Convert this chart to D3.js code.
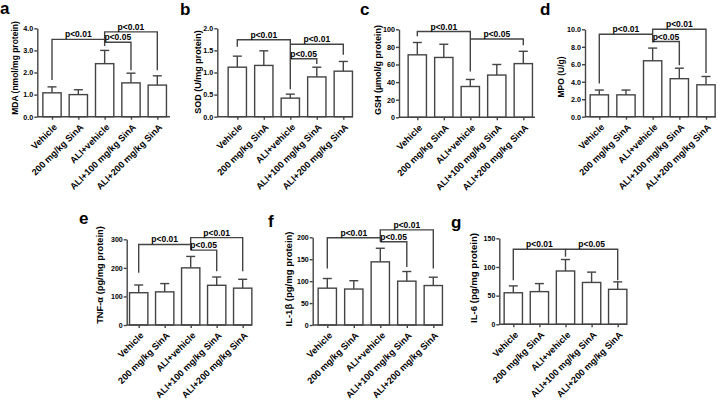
<!DOCTYPE html>
<html>
<head>
<meta charset="utf-8">
<script src="https://cdn.jsdelivr.net/npm/d3@7"></script>
<style>
  html, body { margin: 0; padding: 0; background: #fff; }
  svg { display: block; font-family: "Liberation Sans", Arial, sans-serif; font-weight: bold; }
</style>
</head>
<body>
<svg id="chart" width="723" height="400"></svg>
<script>
// ---------- data ----------
const categories = ["Vehicle", "200 mg/kg SinA", "ALI+vehicle", "ALI+100 mg/kg SinA", "ALI+200 mg/kg SinA"];
const panelLetters = ["a", "b", "c", "d", "e", "f", "g"];
const yTitles = ["MDA (nmol/mg protein)", "SOD (U/mg protein)", "GSH (\u00b5mol/g protein)", "MPO (U/g)",
                 "TNF-\u03b1  (pg/mg protein)", "IL-1\u03b2 (pg/mg protein)", "IL-6 (pg/mg protein)"];

const mdaMean = [1.08, 1.0, 2.4, 1.53, 1.43];
const mdaSD   = [0.27, 0.22, 0.6, 0.44, 0.42];
const sodMean = [1.12, 1.16, 0.42, 0.9, 1.03];
const sodSD   = [0.25, 0.33, 0.09, 0.22, 0.22];
const gshMean = [71, 68, 35, 48, 61];
const gshSD   = [14, 15, 8, 12, 14];
const mpoMean = [2.5, 2.5, 6.4, 4.35, 3.65];
const mpoSD   = [0.55, 0.55, 1.45, 1.2, 0.95];
const tnfMean = [113, 116, 200, 139, 129];
const tnfSD   = [27, 29, 40, 29, 31];
const il1Mean = [84, 82, 144, 100, 90];
const il1SD   = [22, 19, 31, 22, 19];
const il6Mean = [55, 57, 93, 73, 61];
const il6SD   = [12, 14, 20, 18, 13];

const mdaTicks = [0, 1, 2, 3, 4];
const sodTicks = [0, 0.5, 1, 1.5, 2];
const gshTicks = [0, 20, 40, 60, 80, 100];
const mpoTicks = [0, 2, 4, 6, 8, 10];
const tnfTicks = [0, 100, 200, 300];
const il1Ticks = [0, 50, 100, 150, 200];
const il6Ticks = [0, 50, 100, 150];
const tickFormats = [".1f", ".1f", "d", ".1f", "d", "d", "d"];

// brackets: [group from, group to, level, leg end at from, leg end at to, label]
const mdaBrackets = [[0, 2, 3.5, 1.66, 3.5, "p<0.01"], [2, 4, 3.84, 3.2, 2.1, "p<0.01"], [2, 3, 3.37, 3.37, 2.1, "p<0.05"]];
const sodBrackets = [[0, 2, 1.74, 1.58, 0.62, "p<0.01"], [2, 4, 1.64, 1.64, 1.40, "p<0.01"], [2, 3, 1.31, 1.31, 1.19, "p<0.05"]];
const gshBrackets = [[0, 2, 97.5, 92, 52, "p<0.01"], [2, 4, 89, 89, 82, "p<0.05"]];
const mpoBrackets = [[0, 2, 9.43, 3.8, 9.43, "p<0.01"], [2, 4, 10.0, 8.5, 5.0, "p<0.01"], [2, 3, 8.6, 8.6, 5.9, "p<0.05"]];
const tnfBrackets = [[0, 2, 282, 183, 282, "p<0.01"], [2, 4, 306, 262, 188, "p<0.01"], [2, 3, 262, 262, 188, "p<0.05"]];
const il1Brackets = [[0, 2, 199, 129, 199, "p<0.01"], [2, 4, 217, 190, 129, "p<0.01"], [2, 3, 190, 190, 132, "p<0.05"]];
const il6Brackets = [[0, 2, 131, 77, 118, "p<0.01"], [2, 4, 131, 131, 77, "p<0.05"]];

// table built from the arrays above
const means = [mdaMean, sodMean, gshMean, mpoMean, tnfMean, il1Mean, il6Mean];
const sds = [mdaSD, sodSD, gshSD, mpoSD, tnfSD, il1SD, il6SD];
const ticksList = [mdaTicks, sodTicks, gshTicks, mpoTicks, tnfTicks, il1Ticks, il6Ticks];
const bracketsList = [mdaBrackets, sodBrackets, gshBrackets, mpoBrackets, tnfBrackets, il1Brackets, il6Brackets];

// ---------- layout (positions / sizes only) ----------
const layout = [
  {x0: 37.3,  c0: 52,    c1: 157.3, x1: 170, yT: 28.3,  yB: 116.7, lx: 0,   ly: 14,  tx: 15,  ty: 68,  tfs: 8.5, kfs: 7.2},
  {x0: 217.3, c0: 237.3, c1: 343.3, x1: 353, yT: 28.3,  yB: 116.7, lx: 180, ly: 15,  tx: 197.5, ty: 72, tfs: 9,  kfs: 7.2},
  {x0: 399,   c0: 417.3, c1: 523.3, x1: 535, yT: 29.3,  yB: 117.3, lx: 360, ly: 15,  tx: 378, ty: 70,  tfs: 9,   kfs: 7.2},
  {x0: 585,   c0: 599.3, c1: 706,   x1: 716, yT: 29.3,  yB: 116.7, lx: 540, ly: 15,  tx: 561, ty: 77,  tfs: 8.5, kfs: 7.2},
  {x0: 126.7, c0: 138.7, c1: 242.7, x1: 252, yT: 239.3, yB: 325,   lx: 79,  ly: 224, tx: 100, ty: 275, tfs: 9.3, kfs: 7},
  {x0: 312.7, c0: 327.3, c1: 433.3, x1: 443, yT: 237.3, yB: 325,   lx: 268, ly: 227, tx: 289, ty: 279, tfs: 9.5, kfs: 7},
  {x0: 499.3, c0: 513.3, c1: 617.7, x1: 627, yT: 238.3, yB: 324.3, lx: 451, ly: 228, tx: 474, ty: 278, tfs: 9.6, kfs: 7}
];
const barW = 18.3, capHalf = 4.5, lineColor = "#444", lineW = 1.4;

const svg = d3.select("#chart");

layout.forEach((L, i) => {
  const mean = means[i], sd = sds[i], ticks = ticksList[i];
  const x = d3.scalePoint().domain(categories).range([L.c0, L.c1]);
  const y = d3.scaleLinear().domain([0, ticks[ticks.length - 1]]).range([L.yB, L.yT]);
  const g = svg.append("g");

  // panel letter
  g.append("text").attr("x", L.lx).attr("y", L.ly).attr("font-size", 17).attr("fill", "#000").text(panelLetters[i]);

  // y title
  g.append("text").attr("transform", `translate(${L.tx},${L.ty}) rotate(-90)`)
    .attr("text-anchor", "middle").attr("dy", "0.35em").attr("font-size", L.tfs).text(yTitles[i]);

  // error bars
  const eb = g.append("g");
  eb.selectAll("line.v").data(mean).join("line").attr("class", "v")
    .attr("x1", (d, j) => x(categories[j])).attr("x2", (d, j) => x(categories[j]))
    .attr("y1", d => y(d)).attr("y2", (d, j) => y(d + sd[j]))
    .attr("stroke", lineColor).attr("stroke-width", lineW);
  eb.selectAll("line.c").data(mean).join("line").attr("class", "c")
    .attr("x1", (d, j) => x(categories[j]) - capHalf).attr("x2", (d, j) => x(categories[j]) + capHalf)
    .attr("y1", (d, j) => y(d + sd[j])).attr("y2", (d, j) => y(d + sd[j]))
    .attr("stroke", lineColor).attr("stroke-width", lineW);

  // bars
  g.selectAll("rect").data(mean).join("rect")
    .attr("x", (d, j) => x(categories[j]) - barW / 2).attr("y", d => y(d))
    .attr("width", barW).attr("height", d => L.yB - y(d))
    .attr("fill", "#fff").attr("stroke", lineColor).attr("stroke-width", lineW);

  // y axis
  const ya = g.append("g").attr("transform", `translate(${L.x0},0)`)
    .call(d3.axisLeft(y).tickValues(ticks).tickFormat(d3.format(tickFormats[i])).tickSize(3).tickSizeOuter(0));
  ya.select(".domain").attr("stroke", lineColor).attr("stroke-width", lineW);
  ya.selectAll(".tick line").attr("stroke", lineColor).attr("stroke-width", lineW);
  ya.selectAll(".tick text").attr("font-size", L.kfs).attr("font-family", null).attr("fill", "#000").attr("x", -4);

  // x axis
  const xa = g.append("g").attr("transform", `translate(0,${L.yB})`)
    .call(d3.axisBottom(x).tickSize(3).tickSizeOuter(0));
  xa.select(".domain").remove();
  xa.append("line").attr("x1", L.x0).attr("x2", L.x1).attr("y1", 0).attr("y2", 0)
    .attr("stroke", lineColor).attr("stroke-width", lineW);
  xa.selectAll(".tick line").attr("stroke", lineColor).attr("stroke-width", lineW);
  xa.selectAll(".tick text").attr("font-size", 9.2).attr("font-family", null).attr("fill", "#000")
    .attr("text-anchor", "end").attr("y", 0).attr("dy", 0)
    .attr("transform", "translate(5,11) rotate(-45)");

  // significance brackets
  bracketsList[i].forEach(b => {
    const xa1 = x(categories[b[0]]), xa2 = x(categories[b[1]]);
    const path = d3.path();
    path.moveTo(xa1, y(b[3]));
    path.lineTo(xa1, y(b[2]));
    path.lineTo(xa2, y(b[2]));
    path.lineTo(xa2, y(b[4]));
    g.append("path").attr("d", path.toString()).attr("fill", "none")
      .attr("stroke", lineColor).attr("stroke-width", lineW);
    g.append("text").attr("x", (xa1 + xa2) / 2).attr("y", y(b[2]) - 2)
      .attr("text-anchor", "middle").attr("font-size", 8.5).attr("fill", "#000").text(b[5]);
  });
});
</script>
</body>
</html>
